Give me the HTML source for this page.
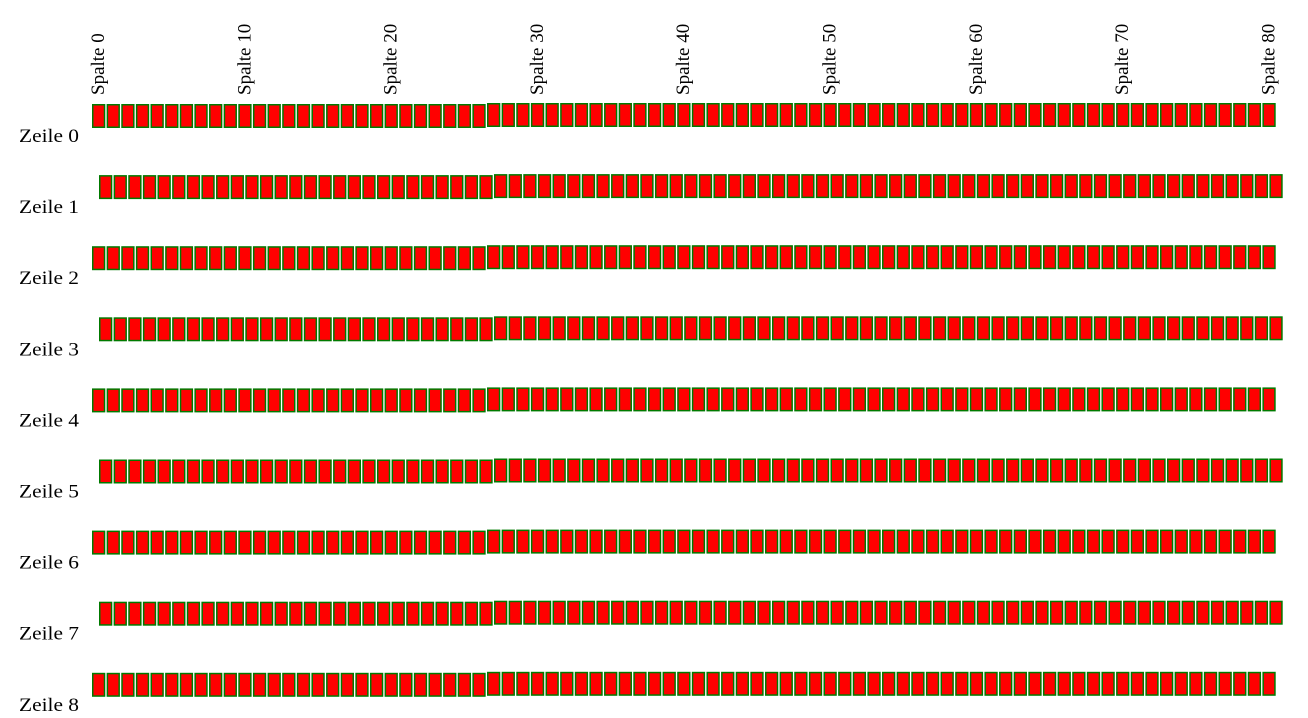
<!DOCTYPE html>
<html><head><meta charset="utf-8"><style>
html,body{margin:0;padding:0;background:#fff;width:1308px;height:718px;overflow:hidden}
svg{display:block}
text{font-family:"Liberation Serif",serif;font-size:19px;fill:#000}
</style></head><body>
<svg id="chart" width="1308" height="718" xmlns="http://www.w3.org/2000/svg"></svg>
<script>
const rows = ["Zeile 0","Zeile 1","Zeile 2","Zeile 3","Zeile 4","Zeile 5","Zeile 6","Zeile 7","Zeile 8"];
const colCount = 81;
const colTicks = [0,10,20,30,40,50,60,70,80];
const NS = "http://www.w3.org/2000/svg";
const svg = document.getElementById("chart");
const pitch = 14.63;
function xCell(r,c){ return 92 + (r%2 ? 7 : 0) + c*pitch; }
function yRow(r){ return 104 + r*71.1; }
rows.forEach((lab,r)=>{
  const t = document.createElementNS(NS,"text");
  
  
  t.setAttribute("x",19); t.setAttribute("y",yRow(r)+38);
  t.setAttribute("textLength",60);
  t.setAttribute("lengthAdjust","spacingAndGlyphs");
  t.textContent = lab; svg.appendChild(t);
  for(let c=0;c<colCount;c++){
    const rc = document.createElementNS(NS,"rect");
    
    
    const lift = c>=27 ? 1 : 0;
    rc.setAttribute("x",xCell(r,c)+0.75);
    rc.setAttribute("y",yRow(r)+0.75-lift);
    rc.setAttribute("width",11.8);
    rc.setAttribute("height",22.5);
    rc.setAttribute("fill","#ff0000");
    rc.setAttribute("stroke","#007a00");
    rc.setAttribute("stroke-width","1.5");
    svg.appendChild(rc);
  }
});
colTicks.forEach(c=>{
  const t = document.createElementNS(NS,"text");
  
  
  const x = 92 + c*pitch + 12;
  t.setAttribute("transform","translate("+x+",95) rotate(-90)");
  t.textContent = "Spalte " + c; svg.appendChild(t);
});
</script>
</body></html>
